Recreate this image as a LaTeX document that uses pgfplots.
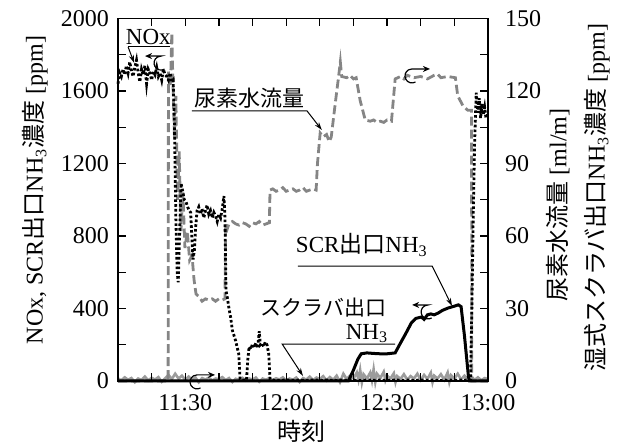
\documentclass[border=0pt]{standalone}
\usepackage{fontspec}
\setmainfont{Liberation Serif}
\newfontfamily\jp{Noto Sans CJK JP}
\usepackage{pgfplots}
\pgfplotsset{compat=1.18}
\usetikzlibrary{arrows.meta}

\definecolor{ureaGray}{HTML}{858585}
\definecolor{scrubGray}{HTML}{9C9C9C}

% curl marks: which axis a curve belongs to (canvas units only)
\newcommand{\curlR}[1]{\draw[line width=0.6pt,-{Stealth[length=3.5pt,width=3pt]}] (#1) ++(-60:3.5pt) arc[start angle=-60,end angle=-270,radius=3.5pt] -- ++(9pt,0pt);}
\newcommand{\curlL}[1]{\draw[line width=0.6pt,-{Stealth[length=3.5pt,width=3pt]}] (#1) ++(-60:3.5pt) arc[start angle=-60,end angle=-270,radius=3.5pt] -- ++(-8pt,0pt);}

\pgfplotsset{
  chartBase/.style={
    scale only axis, width=185pt, height=181.25pt,
    at={(0,0)}, anchor=south west,
    xmin=10, xmax=120,
    tick align=inside,
    major tick length=4pt, minor tick length=4pt,
    tick style={line width=0.6pt, black},
    axis line style={line width=0.8pt},
    tick label style={font=\fontsize{12}{14}\selectfont},
    /pgf/number format/assume math mode=true,
    /pgf/number format/1000 sep={},
    clip=false
  }
}

\begin{document}
\begin{tikzpicture}
\path[use as bounding box] (-59pt,-30.5pt) rectangle (251.5pt,190.5pt);

% right axis: urea flow and scrubber outlet NH3
\begin{axis}[
  chartBase,
  hide x axis,
  axis y line*=right,
  ymin=0, ymax=150,
  ytick={0,30,...,150},
  minor ytick={15,45,...,135},
  yticklabel style={xshift=5pt}
]
\addplot[scrubGray, line width=1.3pt] coordinates {
(10,1.0) (11,0.3) (12,1.5) (13,0.5) (14,1.2) (15,-0.5) (16,1.0) (17,0.4) (18,1.8) (19,0.2)
(20,1.3) (21,0.6) (22,1.6) (23,-0.3) (24,1.1) (25,2.5) (26,0.8) (27,3.0) (28,1.0) (29,2.2)
(30,0.5) (31,1.8) (32,0.4) (33,1.5) (34,-0.5) (35,1.2) (36,0.6) (37,1.4) (38,0.2) (39,1.0)
(40,0.8) (41,1.6) (42,0.3) (43,1.2) (44,-0.4) (45,0.9) (46,0.5) (47,1.3) (48,0.2) (49,1.0)
(50,0.6) (51,1.4) (52,-0.3) (53,1.0) (54,0.5) (55,1.2) (56,0.3) (57,1.1) (58,0.6) (59,1.5)
(60,0.2) (61,1.0) (62,0.5) (63,1.4) (64,-0.4) (65,1.2) (66,0.6) (67,1.8) (68,0.3) (69,1.4)
(70,0.8) (71,2.0) (72,0.2) (73,1.6) (74,0.5) (75,2.2) (76,-0.5) (77,3.0) (78,0.8) (79,2.2)
(80,1.0) (81,3.5) (81.5,0.5) (82,4.5) (82.5,-0.6) (83,2.8) (84,1.0) (85,3.5) (85.5,0.2) (86,4.8)
(86.5,-0.5) (87,3.0) (88,1.2) (89,3.8) (89.5,0.3) (90,2.2) (91,1.0) (92,3.2) (92.5,-0.5) (93,2.0)
(94,0.8) (95,2.8) (96,0.5) (97,2.0) (98,1.0) (99,3.0) (100,0.4) (101,2.5) (102,0.8) (103,3.4)
(103.5,-0.5) (104,2.2) (105,1.0) (106,2.8) (107,0.5) (108,3.5) (108.5,-0.4) (109,2.4) (110,1.0) (111,3.0)
(112,0.6) (113,2.2) (114,0.8) (115,2.0) (116,0.4) (117,1.5) (118,0.3) (119,1.2) (120,0.8)
};
\addplot[ureaGray, line width=1.4pt, dash pattern=on 4.5pt off 2pt] coordinates {
(10,0) (24.9,0) (25.0,128) (25.6,122) (26,144) (26.3,125) (26.8,100) (27.2,118) (27.7,75)
(28.2,95) (28.7,62) (29.3,78) (29.9,55) (30.6,62) (31.3,50) (32,52) (32.6,42) (33.2,36)
(34,35) (35,33) (36,34) (37,33.5) (38,34) (39,33) (40,34) (41,33.5) (41.8,34) (42,65) (42.5,63)
(43,65) (44,66) (45,65) (46,64.5) (47,65.5) (48,65) (49,64) (50,65.5) (51,65) (52,66) (53,64.5)
(54,65) (55,65.5) (55.2,79) (56,79.5) (57,78.5) (58,79) (59,80) (60,78.5) (61,79) (62,79.5)
(63,78.5) (64,79) (65,80) (66,78.5) (67,79) (68,79.5) (68.9,79) (69.3,90) (70.1,102.6) (71,101)
(72,102) (72.8,99) (73.4,101) (74.6,115) (75.5,125) (76.1,132) (76.5,126) (78,125.5) (79,126.5)
(80,125) (80.8,125.5) (82,116) (83.5,108) (85,107.5) (86,108) (87,107) (88,107.5) (89,107)
(90,108) (91.3,107.5) (92.4,125) (94,126) (95,125) (96,126.5) (98,125.5) (100,126) (102,125)
(104,126.5) (105,127) (106,125.5) (108,126) (110.3,125.5) (111,118) (112.5,114) (114,112)
(115.1,112) (115.2,0) (120,0)
};
\node[rotate=90, font=\fontsize{12}{14}\selectfont] at (rel axis cs:1.189,0.486)
  {{\jp 尿素水流量} [ml/m]};
\node[rotate=90, font=\fontsize{12}{14}\selectfont] at (rel axis cs:1.295,0.505)
  {{\jp 湿式スクラバ出口}NH\textsubscript{3}{\jp 濃度} [ppm]};
\end{axis}

% left axis: NOx and SCR outlet NH3
\begin{axis}[
  chartBase,
  ymin=0, ymax=2000,
  ytick={0,400,...,2000},
  minor ytick={200,600,...,1800},
  ytick pos=left,
  xtick={30,60,90,120},
  xticklabels={11:30,12:00,12:30,13:00},
  minor xtick={20,40,50,70,80,100,110},
  yticklabel style={xshift=-1pt},
  xticklabel style={yshift=-3pt}
]
\addplot[black, line width=1.4pt, dash pattern=on 1.3pt off 1.1pt] coordinates {
(10,1640) (10.5,1700) (11,1680) (11.5,1720) (12,1690) (12.5,1740) (13,1700) (13.5,1760)
(14,1710) (14.5,1680) (15,1730) (15.5,1770) (16,1700) (16.5,1650) (17,1720) (17.5,1690)
(18,1740) (18.5,1640) (19,1720) (19.5,1700) (20,1660) (20.5,1710) (21,1690) (21.5,1730)
(22,1680) (22.5,1700) (23,1660) (23.5,1720) (24,1690) (24.5,1680) (25,1660) (25.5,1700)
(26,1650) (26.4,1660) (26.8,1400) (27.2,900) (27.6,600) (27.9,545) (28.3,800) (28.75,1090)
(29.2,1050) (29.7,1000) (30.2,990) (30.7,960) (31.2,940) (31.6,930) (32.0,780) (32.3,670)
(32.7,720) (33.1,850) (33.5,940) (34,960) (34.5,920) (35,950) (35.5,900) (36,940) (36.5,970)
(37,920) (37.5,940) (38,900) (38.5,930) (39,910) (39.5,880) (40,920) (40.5,900) (41,950)
(41.5,1020) (41.8,900) (42.1,500) (42.5,460) (43,400) (43.5,350) (44,280) (44.5,250) (45,220)
(45.5,180) (45.9,150) (46.3,10) (47,5) (48.2,5) (48.6,120) (49,190) (49.5,175) (50,205)
(50.5,185) (51,210) (51.5,180) (52,275) (52.3,200) (52.8,210) (53.3,190) (53.8,215) (54.3,200)
(54.8,150) (55.2,10) (56,5) (58,3) (60,6) (62,4) (64,5) (66,3) (68,6) (70,4) (72,5) (74,3)
(76,6) (78,4) (80,5) (82,3) (84,6) (86,4) (88,5) (90,3) (92,6) (94,4) (96,5) (98,3) (100,6)
(102,4) (104,5) (106,3) (108,6) (110,4) (112,5) (114.8,5) (115.2,400) (115.6,900) (116,1300)
(116.5,1590) (117,1480) (117.4,1560) (117.8,1450) (118.2,1530) (118.6,1470) (119,1510)
(119.4,1450) (120,1480)
};
\addplot[black, line width=1.5pt] coordinates {
(10,0) (78.5,0) (80,60) (81.3,120) (82.3,150) (84,155) (86,152) (88,150) (90,150) (92.4,155)
(94,210) (95.5,260) (97.2,320) (98.5,345) (100.2,353) (101,340) (102,365) (103,370) (104,365)
(105.2,375) (106.5,390) (108.2,403) (109.5,410) (111.2,420) (112,410) (113,250) (114.2,22)
(114.5,0) (120,0)
};

% axis titles
\node[rotate=90, font=\fontsize{12}{14}\selectfont] at (rel axis cs:-0.224,0.527)
  {NOx, SCR{\jp 出口}NH\textsubscript{3}{\jp 濃度} [ppm]};
\node[font=\fontsize{12}{14}\selectfont\jp] at (rel axis cs:0.495,-0.138) {時刻};

% annotations
\node[font=\fontsize{11.5}{13}\selectfont] at (axis cs:19,1900) {NOx};
\draw[line width=0.5pt] (axis cs:25.5,1843) -- (axis cs:13,1843);
\draw[line width=0.5pt,-{Stealth[length=4pt,width=2.5pt]}] (axis cs:13,1843) -- (axis cs:14.8,1755);
\curlL{axis cs:22.8,1754}

\node[font=\fontsize{11}{13}\selectfont\jp] at (axis cs:49,1560) {尿素水流量};
\draw[line width=0.5pt,-{Stealth[length=4pt,width=2.5pt]}] (axis cs:32,1490) -- (axis cs:66.2,1490) -- (axis cs:70.6,1385);
\curlR{axis cs:97.4,1683}

\node[font=\fontsize{11.5}{13}\selectfont] at (axis cs:82.5,750) {SCR{\jp 出口}NH\textsubscript{3}};
\draw[line width=0.5pt,-{Stealth[length=4pt,width=2.5pt]}] (axis cs:63.5,634) -- (axis cs:103.4,634) -- (axis cs:109.3,414);
\curlL{axis cs:102.2,381}

\node[font=\fontsize{10.5}{12}\selectfont\jp] at (axis cs:71.2,405) {スクラバ出口};
\node[font=\fontsize{11.5}{13}\selectfont, anchor=east] at (axis cs:92.4,262) {NH\textsubscript{3}};
\draw[line width=0.5pt,-{Stealth[length=4pt,width=2.5pt]}] (axis cs:92.4,204) -- (axis cs:58.8,204) -- (axis cs:65,28);
\curlR{axis cs:33.5,-5}
\end{axis}
\end{tikzpicture}
\end{document}
